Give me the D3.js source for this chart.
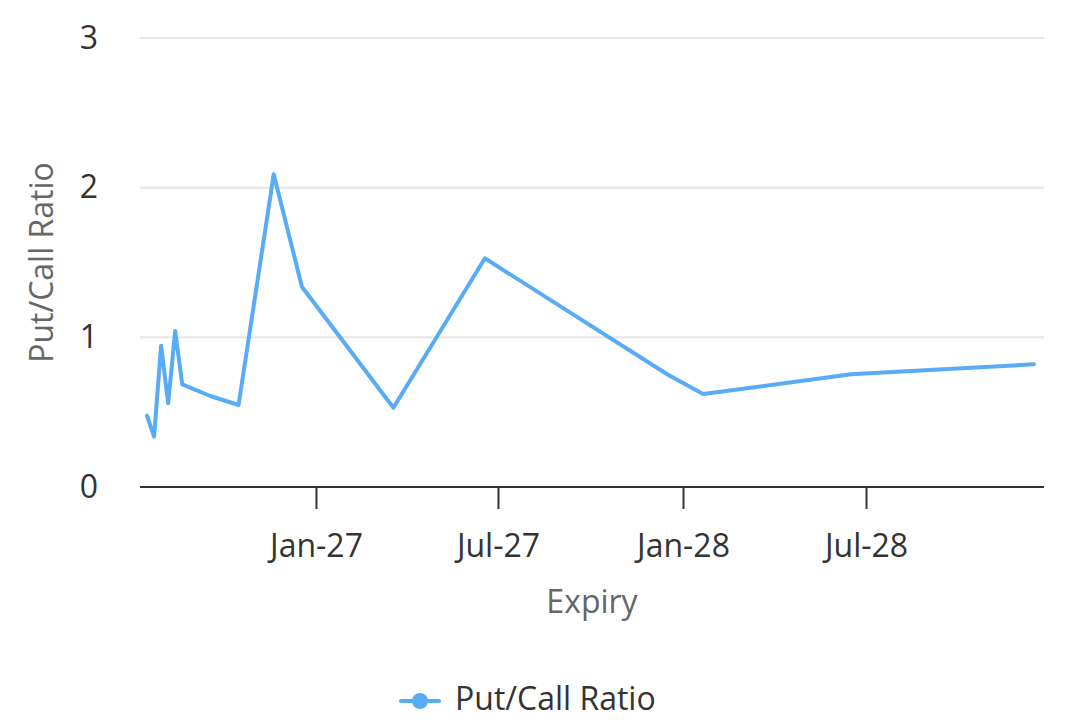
<!DOCTYPE html>
<html>
<head>
<meta charset="utf-8">
<script src="https://cdn.jsdelivr.net/npm/d3@7"></script>
<style>
  html, body { margin: 0; padding: 0; background: #fff; }
  svg { display: block; font-family: "Open Sans", "Noto Sans", sans-serif; }
</style>
</head>
<body>
<svg id="chart" width="1083" height="725"></svg>
<script>
// Data
const expiries = [
  "2026-07-17", "2026-07-24", "2026-07-31", "2026-08-07", "2026-08-14",
  "2026-08-21", "2026-09-18", "2026-10-16", "2026-11-20", "2026-12-18",
  "2027-03-19", "2027-06-18", "2027-12-17", "2028-01-21", "2028-06-16",
  "2028-12-15"
];
const putCallRatio = [
  0.476, 0.336, 0.944, 0.559, 1.042,
  0.686, 0.608, 0.548, 2.089, 1.338,
  0.530, 1.528, 0.750, 0.621, 0.753,
  0.820
];
const yTicks = [0, 1, 2, 3];
const xTickDates = ["2027-01-01", "2027-07-01", "2028-01-01", "2028-07-01"];
const xDomain = ["2026-07-10", "2028-12-25"];
const seriesName = "Put/Call Ratio";
const xTitle = "Expiry";
const yTitle = "Put/Call Ratio";

(function () {
const parse = d3.utcParse("%Y-%m-%d");
const data = expiries.map((d, i) => ({ date: parse(d), value: putCallRatio[i] }));

const svg = d3.select("#chart");
const mLeft = 140, mRight = 1044, mTop = 38, mBottom = 487;
const color = "#58acf7";
const fs = 32;

const x = d3.scaleUtc().domain(xDomain.map(parse)).range([mLeft, mRight]);
const y = d3.scaleLinear().domain([0, 3]).range([mBottom, mTop]);

// gridlines
svg.append("g")
  .selectAll("line")
  .data(yTicks.filter(t => t !== 0))
  .join("line")
  .attr("x1", mLeft).attr("x2", mRight)
  .attr("y1", d => y(d)).attr("y2", d => y(d))
  .attr("stroke", "#e6e6e6").attr("stroke-width", 2);

// y axis labels
const yAxis = d3.axisLeft(y).tickValues(yTicks).tickSize(0).tickPadding(42).tickFormat(d3.format("d"));
const gy = svg.append("g").attr("transform", `translate(${mLeft},0)`).call(yAxis);
gy.select(".domain").remove();
gy.selectAll("text").attr("font-size", fs).attr("fill", "#333").attr("font-family", "Open Sans, sans-serif");

// x axis
const xAxis = d3.axisBottom(x)
  .tickValues(xTickDates.map(parse))
  .tickSize(22).tickPadding(25)
  .tickFormat(d3.utcFormat("%b-%y"));
const gx = svg.append("g").attr("transform", `translate(0,${mBottom})`).call(xAxis);
gx.select(".domain").attr("stroke", "#333").attr("stroke-width", 2).attr("d", `M${mLeft},0H${mRight}`);
gx.selectAll(".tick line").attr("stroke", "#333").attr("stroke-width", 2);
gx.selectAll("text").attr("font-size", fs).attr("fill", "#333").attr("font-family", "Open Sans, sans-serif");

// line
const line = d3.line().x(d => x(d.date)).y(d => y(d.value));
svg.append("path")
  .datum(data)
  .attr("d", line)
  .attr("fill", "none")
  .attr("stroke", color)
  .attr("stroke-width", 4)
  .attr("stroke-linejoin", "round")
  .attr("stroke-linecap", "round");

// axis titles
svg.append("text")
  .attr("x", 592).attr("y", 613)
  .attr("text-anchor", "middle")
  .attr("font-size", fs).attr("fill", "#666")
  .text(xTitle);

svg.append("text")
  .attr("transform", `translate(53,${(mTop + mBottom) / 2}) rotate(-90)`)
  .attr("text-anchor", "middle")
  .attr("font-size", fs).attr("fill", "#666")
  .text(yTitle);

// legend
const lg = svg.append("g").attr("transform", "translate(0,701)");
lg.append("line").attr("x1", 401).attr("x2", 439).attr("y1", 0).attr("y2", 0)
  .attr("stroke", color).attr("stroke-width", 4).attr("stroke-linecap", "round");
lg.append("circle").attr("cx", 420).attr("cy", 0).attr("r", 8).attr("fill", color);
lg.append("text").attr("x", 455).attr("y", 9)
  .attr("font-size", fs).attr("fill", "#333").text(seriesName);
})();
</script>
</body>
</html>
